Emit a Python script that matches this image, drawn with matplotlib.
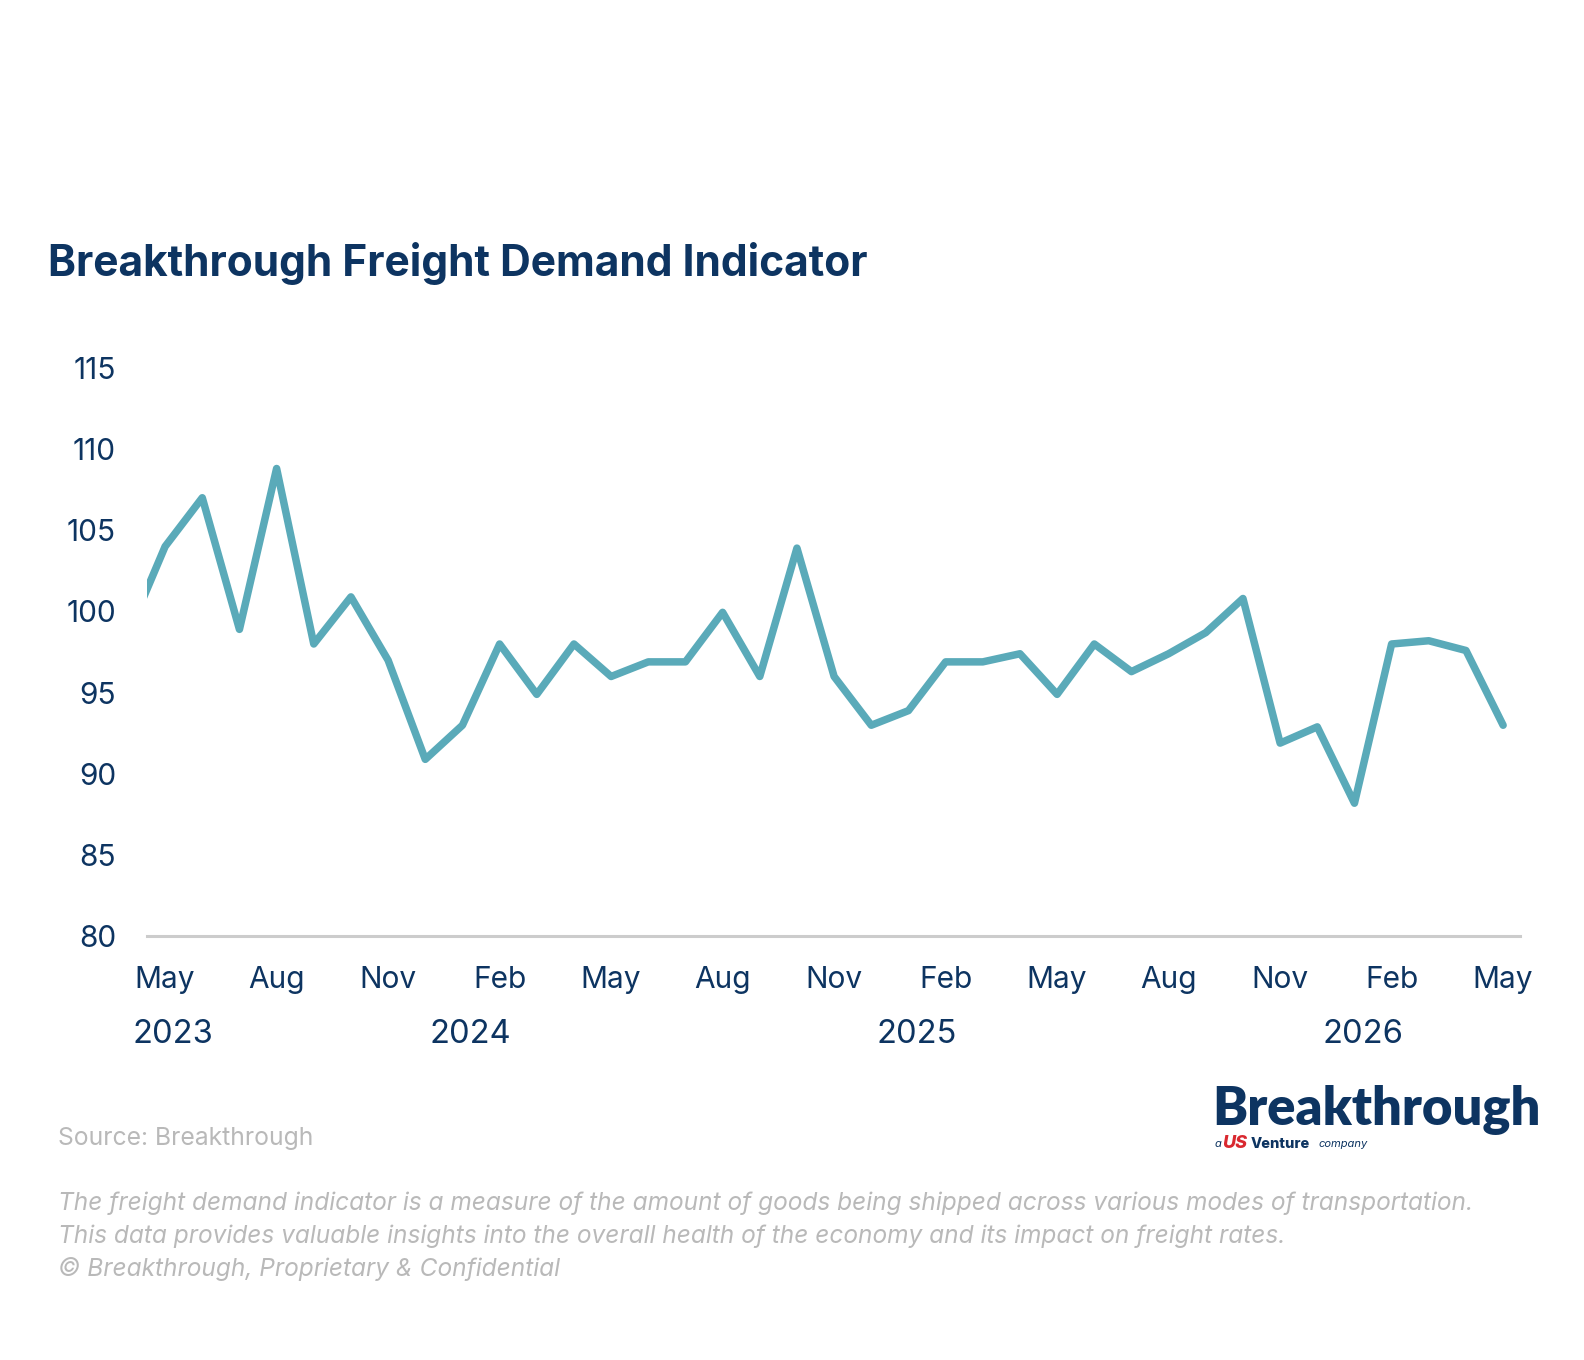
import matplotlib.pyplot as plt
import numpy as np

# monthly index values, Apr 2023 .. May 2026 (Apr 2023 only partly visible)
months = ['Apr', 'May', 'Jun', 'Jul', 'Aug', 'Sep', 'Oct', 'Nov', 'Dec',
          'Jan', 'Feb', 'Mar', 'Apr', 'May', 'Jun', 'Jul', 'Aug', 'Sep', 'Oct', 'Nov', 'Dec',
          'Jan', 'Feb', 'Mar', 'Apr', 'May', 'Jun', 'Jul', 'Aug', 'Sep', 'Oct', 'Nov', 'Dec',
          'Jan', 'Feb', 'Mar', 'Apr', 'May']
values = [98.6, 104.0, 107.0, 98.9, 108.8, 98.0, 100.9, 97.0, 90.9,
          93.0, 98.0, 94.9, 98.0, 96.0, 96.9, 96.9, 99.95, 96.0, 103.9, 96.0, 93.0,
          93.9, 96.9, 96.9, 97.4, 94.9, 98.0, 96.3, 97.4, 98.7, 100.8, 91.9, 92.9,
          88.2, 98.0, 98.2, 97.6, 93.0]
years = ['2023', '2024', '2025', '2026']
year_start = [0, 8, 20, 32]          # month index (May 2023 = 0) of first month shown for each year
yticks = [80, 85, 90, 95, 100, 105, 110, 115]

navy = '#0d3461'
teal = '#5aaab9'
grey = '#b9b9b9'

plt.rcParams['font.family'] = ['Inter', 'DejaVu Sans']

fig = plt.figure(figsize=(15.84, 13.6), dpi=100)
ax = fig.add_axes([0.0925, 0.3114, 0.867, 0.4182])

x = np.arange(len(values)) - 1
ax.plot(x, values, color=teal, lw=5.4, solid_joinstyle='round', solid_capstyle='round')

ax.set_xlim(-0.5, 36.45)
ax.set_ylim(80, 115)
for s in ['top', 'right', 'left']:
    ax.spines[s].set_visible(False)
ax.spines['bottom'].set_color('#cccccc')
ax.spines['bottom'].set_linewidth(2.2)

ax.set_yticks(yticks)
ax.set_yticklabels([str(v) for v in yticks], fontsize=21.5, color=navy)
tick_idx = list(range(0, 37, 3))
ax.set_xticks(tick_idx)
ax.set_xticklabels([months[i + 1] for i in tick_idx], fontsize=21.5, color=navy)
ax.tick_params(axis='y', length=0, pad=22)
ax.tick_params(axis='x', length=0, pad=21)

for yr, xs in zip(years, year_start):
    ax.text(xs + 0.22, -0.172, yr, transform=ax.get_xaxis_transform(),
            ha='center', va='center', fontsize=23.5, color=navy)

fig.text(0.0305, 0.8065, 'Breakthrough Freight Demand Indicator', fontsize=30.6,
         fontweight='bold', color=navy, va='center', ha='left')

fig.text(0.0365, 0.163, 'Source: Breakthrough', fontsize=17.8, color=grey, va='center')
notes = ['The freight demand indicator is a measure of the amount of goods being shipped across various modes of transportation.',
         'This data provides valuable insights into the overall health of the economy and its impact on freight rates.',
         '\u00a9 Breakthrough, Proprietary & Confidential']
for i, line in enumerate(notes):
    fig.text(0.0365, 0.115 - i * 0.0242, line, fontsize=17.6, color=grey,
             style='italic', va='center')

# logo
fig.text(0.765, 0.1835, 'Breakthrough', fontsize=37.8, fontweight='heavy', color=navy,
         va='center', ha='left', family=['Lato', 'DejaVu Sans'])
fig.text(0.767, 0.159, 'a', fontsize=8, color=navy, style='italic', va='center')
fig.text(0.7715, 0.159, 'US', fontsize=13, color='#d9282f', style='italic',
         fontweight='heavy', va='center')
fig.text(0.7895, 0.159, 'Venture', fontsize=10.5, color=navy, fontweight='heavy',
         va='center')
fig.text(0.8325, 0.159, 'company', fontsize=8, color=navy, style='italic', va='center')

fig.savefig('out.png', dpi=100, facecolor='white')
